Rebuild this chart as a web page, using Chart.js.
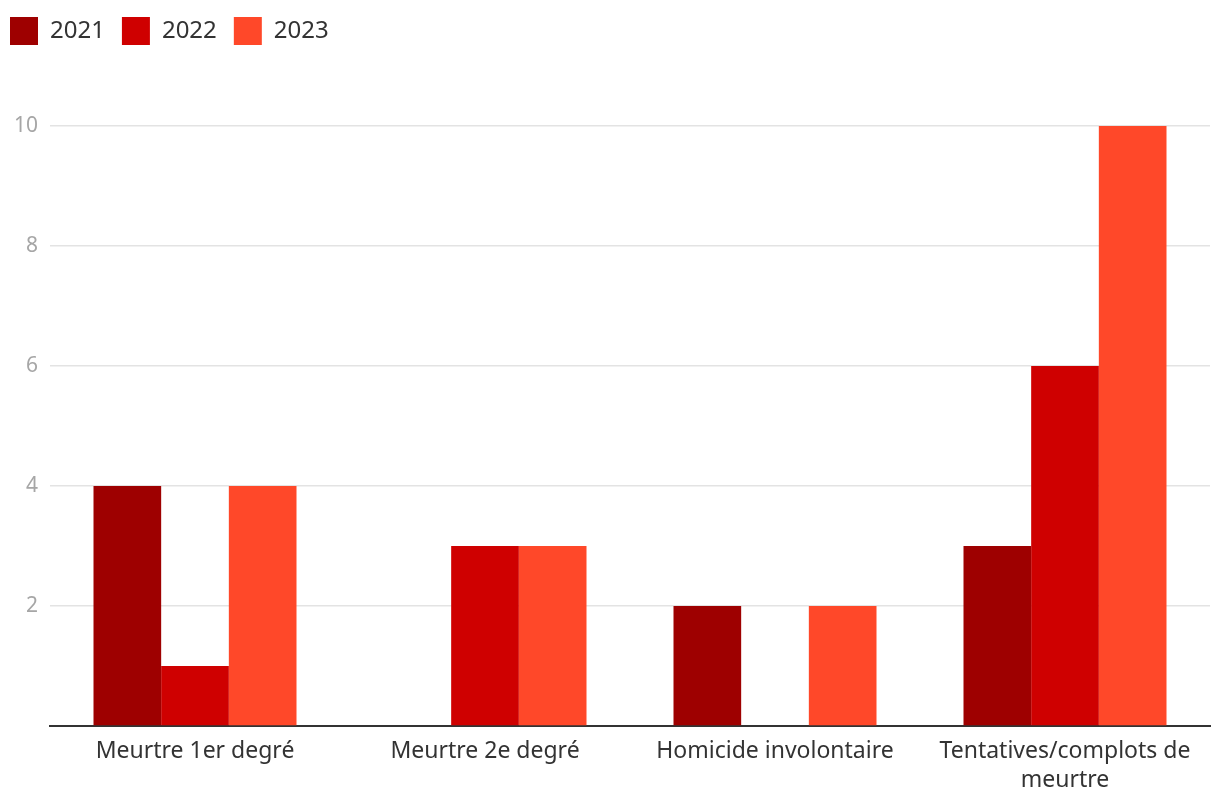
<!DOCTYPE html>
<html>
<head>
<meta charset="utf-8">
<script src="https://cdn.jsdelivr.net/npm/chart.js@4.4.0/dist/chart.umd.min.js"></script>
<style>
  html, body { margin: 0; padding: 0; background: #ffffff; }
  #wrap { width: 1220px; height: 806px; position: relative; }
</style>
</head>
<body>
<div id="wrap"><canvas id="c"></canvas></div>
<script>
const categories = [
  'Meurtre 1er degré',
  'Meurtre 2e degré',
  'Homicide involontaire',
  ['Tentatives/complots de', 'meurtre']
];
const seriesNames = ['2021', '2022', '2023'];
const values2021 = [4, 0, 2, 3];
const values2022 = [1, 3, 0, 6];
const values2023 = [4, 3, 2, 10];
const seriesColors = ['#9e0000', '#cf0000', '#ff4829'];
const yTicks = [2, 4, 6, 8, 10];

const FONT = '"Noto Sans", sans-serif';

const legendSpacer = {
  id: 'legendSpacer',
  beforeInit(chart) {
    const orig = chart.legend.fit;
    chart.legend.fit = function () {
      orig.bind(chart.legend)();
      this.height += 71;
    };
  }
};

new Chart(document.getElementById('c'), {
  type: 'bar',
  data: {
    labels: categories,
    datasets: [values2021, values2022, values2023].map((v, i) => ({
      label: seriesNames[i],
      data: v,
      backgroundColor: seriesColors[i],
      borderWidth: 0,
      categoryPercentage: 0.7,
      barPercentage: 1.0
    }))
  },
  options: {
    responsive: true,
    maintainAspectRatio: false,
    animation: false,
    layout: { padding: { left: -7, right: 10, top: 0, bottom: 0 } },
    plugins: {
      legend: {
        position: 'top',
        align: 'start',
        labels: {
          boxWidth: 28,
          boxHeight: 28,
          padding: 17,
          color: '#333333',
          font: { family: FONT, size: 24 }
        }
      },
      tooltip: { enabled: false }
    },
    scales: {
      x: {
        grid: { display: false, drawTicks: false },
        border: { display: true, color: '#333333', width: 2 },
        ticks: {
          color: '#333333',
          padding: 12,
          maxRotation: 0,
          autoSkip: false,
          font: { family: FONT, size: 23, lineHeight: 1.22 }
        }
      },
      y: {
        min: 0,
        max: 10,
        afterFit(scale) { scale.width = 57; },
        afterBuildTicks(scale) {
          scale.ticks = [0].concat(yTicks).map(v => ({ value: v }));
        },
        grid: {
          color: (ctx) => ctx.tick && ctx.tick.value === 0 ? 'rgba(0,0,0,0)' : '#e3e3e3',
          lineWidth: 1.5,
          drawTicks: false
        },
        border: { display: false },
        ticks: {
          color: '#a6a6a6',
          padding: 12,
          font: { family: FONT, size: 21 },
          callback: (v) => v === 0 ? '' : String(v)
        }
      }
    }
  },
  plugins: [legendSpacer]
});
</script>
</body>
</html>
